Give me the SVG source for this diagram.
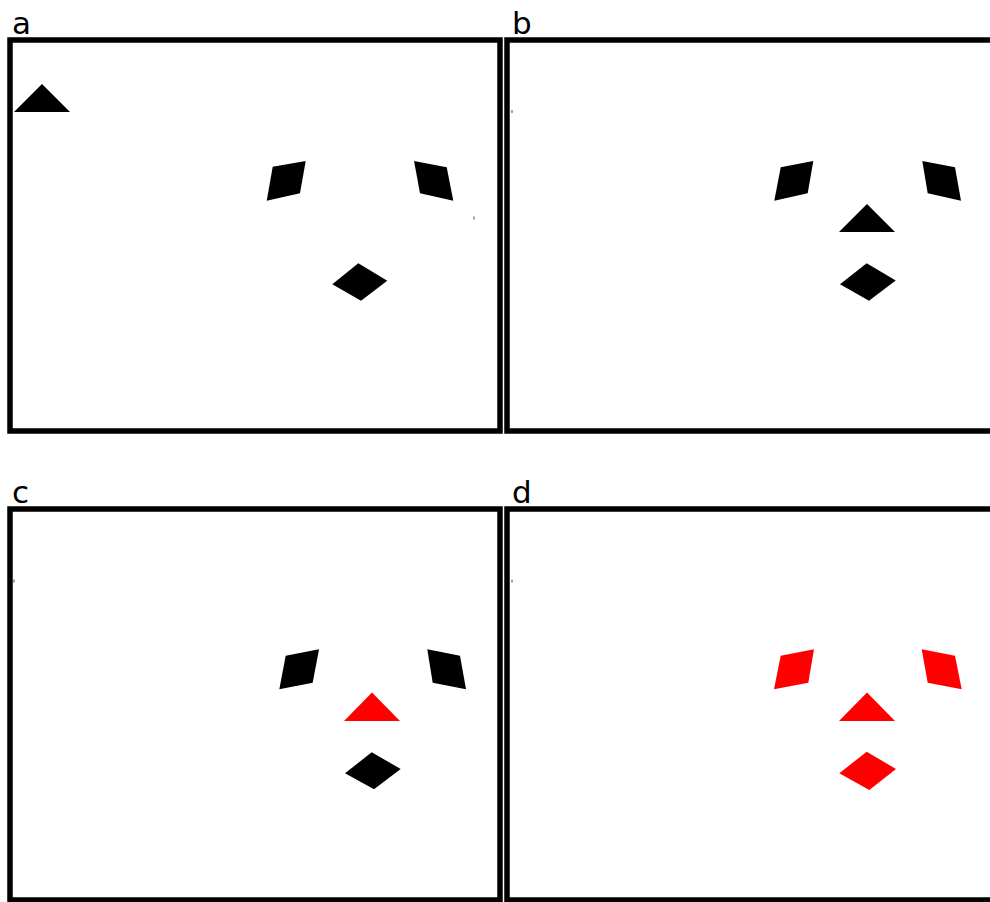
<svg xmlns="http://www.w3.org/2000/svg" width="990" height="902" viewBox="0 0 990 902">
<style>
.frame{fill:none;stroke:#000;stroke-width:5.5}
.lbl{font-family:"DejaVu Sans","Liberation Sans",sans-serif;font-size:31px;fill:#000}
.k{fill:#000}
.r{fill:#ff0000}
.dot{fill:#444}
</style>
<rect width="990" height="902" fill="#fff"/>
<g id="panel-a">
<rect class="frame" x="10" y="40" width="490" height="391"/>
<text class="lbl" x="12" y="34">a</text>
<polygon id="a-tri" class="k" points="14,112 42,84 70,112"/>
<polygon id="a-para1" class="k" points="272.7,166.7 305.7,161 300,193.3 266.7,200.7"/>
<polygon id="a-para2" class="k" points="414,161 446.7,167.3 453.3,200.7 420,193.3"/>
<polygon id="a-dia" class="k" points="358.3,263.3 387.3,280.7 361,300.7 332.3,284.3"/>
<rect class="dot" x="473.5" y="216.5" width="1" height="3"/>
</g>
<g id="panel-b">
<rect class="frame" x="507" y="40" width="490" height="391"/>
<text class="lbl" x="512" y="34">b</text>
<polygon id="b-para1" class="k" points="780.7,167.3 813.3,161 807.7,193.3 774.3,200.7"/>
<polygon id="b-para2" class="k" points="922.3,161 955,167.3 961,200.7 927.7,193.3"/>
<polygon id="b-tri" class="k" points="839,232 867,204 895,232"/>
<polygon id="b-dia" class="k" points="866.7,263.3 895.7,280.5 869,300.7 840,284.3"/>
<rect class="dot" x="511.5" y="110" width="1" height="3"/>
</g>
<g id="panel-c">
<rect class="frame" x="10" y="509" width="490" height="391"/>
<text class="lbl" x="12" y="503">c</text>
<polygon id="c-para1" class="k" points="285.7,655.7 319,649.3 312.7,682.7 279.3,689.3"/>
<polygon id="c-para2" class="k" points="427.3,649.3 460,655.7 466,689.3 432.7,682.7"/>
<polygon id="c-tri" class="r" points="344,721 372,692.5 400,721"/>
<polygon id="c-dia" class="k" points="371.7,752.3 400.7,769 374,789.3 345,773.3"/>
<rect class="dot" x="13.5" y="579.5" width="1" height="3"/>
</g>
<g id="panel-d">
<rect class="frame" x="507" y="509" width="490" height="391"/>
<text class="lbl" x="512" y="503">d</text>
<polygon id="d-para1" class="r" points="780.7,655.7 814,649.3 808.3,682.7 774,689.3"/>
<polygon id="d-para2" class="r" points="921.7,649.3 955,655.7 961.7,689.3 927.7,682.7"/>
<polygon id="d-tri" class="r" points="839,721 867,692.5 895,721"/>
<polygon id="d-dia" class="r" points="866.7,751.7 896,769 869.3,790 839.3,773.3"/>
<rect class="dot" x="511.5" y="579.5" width="1" height="3"/>
</g>
</svg>
